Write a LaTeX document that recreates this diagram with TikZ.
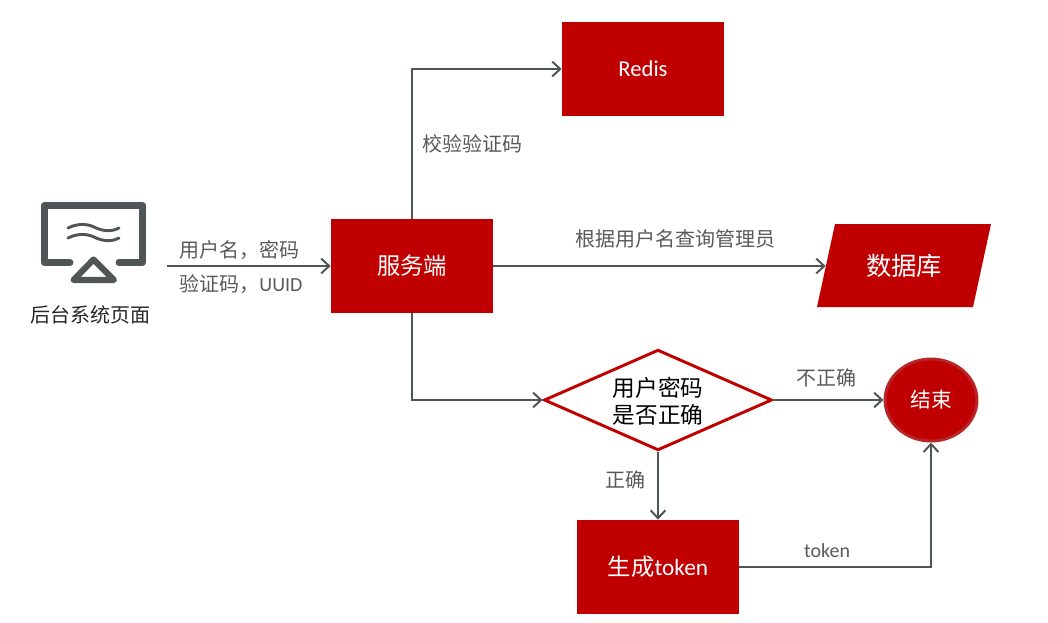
\documentclass[tikz,border=0pt]{standalone}
\usepackage{fontspec}
\setmainfont{Carlito}
\newfontfamily\cjk{Noto Sans CJK SC}
\usetikzlibrary{shapes.geometric,arrows.meta}
\definecolor{brandred}{HTML}{C00000}
\definecolor{linegrey}{HTML}{505555}
\definecolor{labelgrey}{HTML}{595959}
\newcommand{\fs}[1]{\fontsize{#1}{#1}\selectfont}
\tikzset{
  redbox/.style={rectangle,fill=brandred,text=white,minimum width=121.5pt,minimum height=70.5pt,inner sep=0pt},
  conn/.style={draw=linegrey,line width=1.5pt,-{Straight Barb[length=6pt,width=11pt,line width=1.5pt]}},
  lbl/.style={text=labelgrey,inner sep=0pt,font=\fs{15}\cjk},
  icon/.style={draw=linegrey,line cap=round,line join=round},
}
\begin{document}
\begin{tikzpicture}[x=0.75pt,y=-0.75pt]
\useasboundingbox (0,0) rectangle (1048,622);
% icon
\draw[icon,line width=5.2pt] (70,262.5) -- (44.5,262.5) -- (44.5,205.5) -- (142.5,205.5) -- (142.5,262.5) -- (119,262.5);
\draw[icon,line width=4.6pt] (93.5,259.5) -- (114,280) -- (73.5,280) -- cycle;
\draw[icon,line width=2.2pt] (68,228) .. controls (80,222) and (90,225) .. (94,227) .. controls (100,230) and (110,233) .. (119,228);
\draw[icon,line width=2.2pt] (68,238) .. controls (80,232) and (90,235) .. (94,237) .. controls (100,240) and (110,243) .. (119,238);
\coordinate (src) at (167,266);
\node[inner sep=0pt,text=black!85,font=\fs{15}\cjk] (page) at (90,315) {后台系统页面};
% boxes
\node[redbox,font=\fs{17}] (redis) at (643,69) {Redis};
\node[redbox,font=\fs{17.5}\cjk] (srv) at (412,266) {服务端};
\node[redbox,font=\fs{17.5}] (token) at (658,567) {{\cjk 生成}token};
% database
\fill[brandred] (835,224) -- (991,224) -- (973,307) -- (817,307) -- cycle;
\node[rectangle,minimum width=117pt,minimum height=62pt,inner sep=0pt,text=white,font=\fs{19}\cjk] (db) at (904,266) {数据库};
% decision
\node[diamond,draw=brandred,fill=white,line width=2.2pt,minimum width=171pt,minimum height=75.5pt,inner sep=0pt,aspect=2.26,align=center,text=black,font=\fs{17}\cjk] (check) at (658,400) {};
\node[inner sep=0pt,text=black,font=\fs{17}\cjk] (checka) at (658,388) {用户密码};
\node[inner sep=0pt,text=black,font=\fs{17}\cjk] (checkb) at (658,415) {是否正确};
% end
\node[ellipse,draw=brandred!88!black!85!white,fill=brandred,line width=2.2pt,minimum width=69pt,minimum height=61.5pt,inner sep=0pt,text=white,font=\fs{15.5}\cjk] (finish) at (931,400) {结束};
% connectors
\draw[conn] (src) -- (srv.west);
\draw[conn] (srv.north) |- (redis.west);
\draw[conn] (srv.east) -- (db.west);
\draw[conn] (srv.south) |- (check.west);
\draw[conn] (check.east) -- (finish.west);
\draw[conn] (check.south) -- (token.north);
\draw[conn] (token.east) -| (finish.south);
% labels
\node[lbl] (l1) at (239,250) {用户名，密码};
\node[lbl] (l2) at (241,284) {验证码，{\fontspec{Carlito}UUID}};
\node[lbl] (l3) at (472,144) {校验验证码};
\node[lbl] (l4) at (675,239) {根据用户名查询管理员};
\node[lbl] (l5) at (826,378) {不正确};
\node[lbl] (l6) at (625,480) {正确};
\node[lbl,font=\fs{15}\rmfamily] (l7) at (827,551) {token};
\end{tikzpicture}
\end{document}
